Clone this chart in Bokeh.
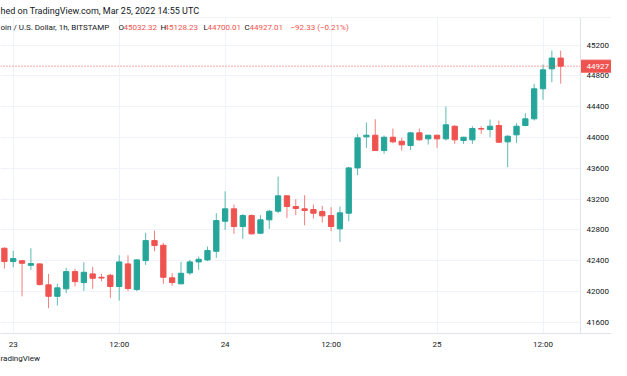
from bokeh.plotting import figure
from bokeh.models import FixedTicker, Span, Label, Title, ColumnDataSource
from bokeh.core.properties import value
from bokeh.embed import file_html
from bokeh.resources import INLINE

# Hours relative to 2022-03-23 00:00 UTC (1h candles, BTC/USD Bitstamp)
hours = list(range(-1, 63))
opens = [42562, 42389, 42400, 42341, 42359, 42087, 41938, 42035, 42259, 42116,
         42229, 42185, 42211, 42065, 42359, 42026, 42402, 42662, 42601, 42178,
         42100, 42242, 42385, 42411, 42523, 42913, 43074, 42844, 42987, 42757,
         42931, 43043, 43243, 43104, 43074, 43065, 43039, 42987, 42814, 43017,
         43606, 44009, 44030, 43831, 44004, 43952, 43896, 44061, 43983, 44030,
         43983, 44147, 43961, 43970, 44117, 44104, 44156, 43944, 44035, 44156,
         44243, 44633, 44892, 45032.32]
highs = [42575, 42528, 42407, 42562, 42365, 42229, 42100, 42307, 42294, 42380,
         42320, 42229, 42229, 42471, 42471, 42420, 42762, 42792, 42632, 42237,
         42385, 42411, 42454, 42584, 43017, 43302, 43130, 43009, 43000, 42991,
         43061, 43493, 43250, 43199, 43251, 43130, 43113, 43095, 43104, 43620,
         44048, 44195, 44238, 44026, 44117, 43996, 44070, 44117, 44035, 44035,
         44403, 44160, 44010, 44147, 44147, 44234, 44221, 44030, 44186, 44316,
         44698, 44948, 45130, 45128.23]
lows = [42298, 42315, 41938, 42281, 42080, 41783, 41818, 41978, 42065, 42009,
        42035, 42133, 41917, 41883, 42004, 42004, 42346, 42523, 42100, 42077,
        42095, 42216, 42281, 42394, 42437, 42801, 42749, 42684, 42740, 42749,
        42814, 43017, 42957, 42991, 42861, 42948, 42896, 42783, 42645, 42913,
        43510, 43866, 43825, 43788, 43926, 43831, 43840, 43960, 43909, 43866,
        43961, 43918, 43918, 43918, 44048, 44004, 43930, 43614, 43931, 44147,
        44221, 44490, 44718, 44700.01]
closes = [42389, 42428, 42367, 42363, 42090, 41938, 42048, 42259, 42129, 42250,
          42172, 42175, 42065, 42385, 42039, 42411, 42662, 42597, 42185, 42116,
          42237, 42385, 42419, 42532, 42922, 43074, 42844, 42987, 42749, 42931,
          43043, 43243, 43104, 43078, 43052, 43017, 42983, 42844, 43022, 43606,
          43996, 44030, 43831, 44004, 43944, 43905, 44061, 43970, 44030, 43983,
          44165, 43970, 44004, 44117, 44110, 44147, 43939, 44017, 44147, 44243,
          44633, 44879, 45032, 44927.01]

time_ticks = [0, 12, 24, 36, 48, 60]
time_labels = ["23", "12:00", "24", "12:00", "25", "12:00"]
price_ticks = [41600, 42000, 42400, 42800, 43200, 43600, 44000, 44400, 44800, 45200]
price_labels = [str(v) for v in price_ticks]
last_price = 44927.01
last_price_label = "44927"
header_text = "hed on TradingView.com, Mar 25, 2022 14:55 UTC"
footer_text = "radingView"
legend_parts = [
    ("oin / U.S. Dollar, 1h, BITSTAMP", "#131722"),
    ("O", "#131722"), ("45032.32", "#ef5350"),
    ("H", "#131722"), ("45128.23", "#ef5350"),
    ("L", "#131722"), ("44700.01", "#ef5350"),
    ("C", "#131722"), ("44927.01", "#ef5350"),
    ("\u221292.33 (\u22120.21%)", "#ef5350"),
]
legend_x = [0, 118, 123, 160, 164, 203, 207, 244, 249, 290]

UP = "#26a69a"
DOWN = "#ef5350"
TXT = "#131722"
BORDER = "#e0e3eb"
GRID = "#f0f3fa"
FONT = "Roboto"

colors = [DOWN if c < o else UP for o, c in zip(opens, closes)]
src = ColumnDataSource(dict(
    x=hours, o=opens, h=highs, l=lows, c=closes,
    top=[max(o, c) for o, c in zip(opens, closes)],
    bottom=[min(o, c) for o, c in zip(opens, closes)],
    color=colors,
))

# One frame across the full width; the price scale is drawn at its right side
FW, FH = 611, 316
SCALE_PX = 580                 # left edge of the price scale, in pixels
PX_PER_HOUR = 8.83
X0 = -1.44
X1 = X0 + FW / PX_PER_HOUR
XS = X0 + SCALE_PX / PX_PER_HOUR
Y1 = 45559
Y0 = 41455
UNIT_PER_PX = (Y1 - Y0) / FH

p = figure(frame_width=FW, frame_height=FH, x_range=(X0, X1), y_range=(Y0, Y1),
           output_backend="svg", toolbar_location=None,
           min_border_left=0, min_border_right=0, min_border_top=17, min_border_bottom=0,
           background_fill_color="white", border_fill_color="white")
p.yaxis.visible = False
p.outline_line_color = None

p.title.text = header_text
p.title.text_font = FONT
p.title.text_font_size = "9px"
p.title.text_font_style = "normal"
p.title.text_color = TXT
p.title.offset = 0
p.title.standoff = 3
p.title.align = "left"

p.add_layout(Title(text=footer_text, text_font=FONT, text_font_size="8px",
                   text_font_style="normal", text_color=TXT, offset=0, standoff=0,
                   align="left"), "below")

p.xaxis.ticker = FixedTicker(ticks=time_ticks)
p.xaxis.major_label_overrides = {t: s for t, s in zip(time_ticks, time_labels)}
p.xaxis.axis_line_color = BORDER
p.xaxis.major_tick_line_color = None
p.xaxis.minor_tick_line_color = None
p.xaxis.major_tick_out = 0
p.xaxis.major_tick_in = 0
p.xaxis.minor_tick_out = 0
p.xaxis.major_label_text_font = FONT
p.xaxis.major_label_text_font_size = "8px"
p.xaxis.major_label_text_color = TXT
p.xaxis.major_label_standoff = 6

p.xgrid.ticker = FixedTicker(ticks=time_ticks)
p.ygrid.ticker = FixedTicker(ticks=price_ticks)
p.xgrid.grid_line_color = GRID
p.ygrid.grid_line_color = GRID

# Candles
p.segment(x0="x", y0="l", x1="x", y1="h", line_color="color", line_alpha=0.75,
          line_width=1, source=src)
p.vbar(x="x", width=0.6, top="top", bottom="bottom", fill_color="color",
       line_color="color", line_width=1, source=src)

# Last price line (dotted) up to the price scale
p.segment(x0=[X0], y0=[last_price], x1=[XS], y1=[last_price], line_color=DOWN,
          line_dash="1 2", line_width=1)

# Price scale panel at the right
p.quad(left=[XS], right=[X1], bottom=[Y0], top=[Y1], fill_color="white", line_color=None)
p.add_layout(Span(location=XS, dimension="height", line_color=BORDER, line_width=1))
p.add_layout(Span(location=Y1, dimension="width", line_color=BORDER, line_width=1))
p.text(x=[XS] * len(price_ticks), y=price_ticks, text=price_labels, x_offset=6,
       text_baseline="middle", text_align="left", text_font=value(FONT),
       text_font_size="8px", text_color=TXT)

# Last price tag: red box with white text on the price scale
p.quad(left=[XS], right=[X1], bottom=[last_price - 6 * UNIT_PER_PX],
       top=[last_price + 6 * UNIT_PER_PX], fill_color=DOWN, line_color=DOWN)
p.text(x=[XS], y=[last_price], text=[last_price_label], x_offset=6,
       text_baseline="middle", text_align="left", text_font=value(FONT),
       text_font_size="8px", text_color="white")

legend_y = Y1 - 10 * UNIT_PER_PX
for (txt, col), lx in zip(legend_parts, legend_x):
    p.add_layout(Label(x=lx, y=legend_y, x_units="screen", y_units="data", text=txt,
                       text_baseline="middle", text_font=FONT, text_font_size="8px",
                       text_color=col))

open("out.html", "w").write(file_html(p, INLINE))
